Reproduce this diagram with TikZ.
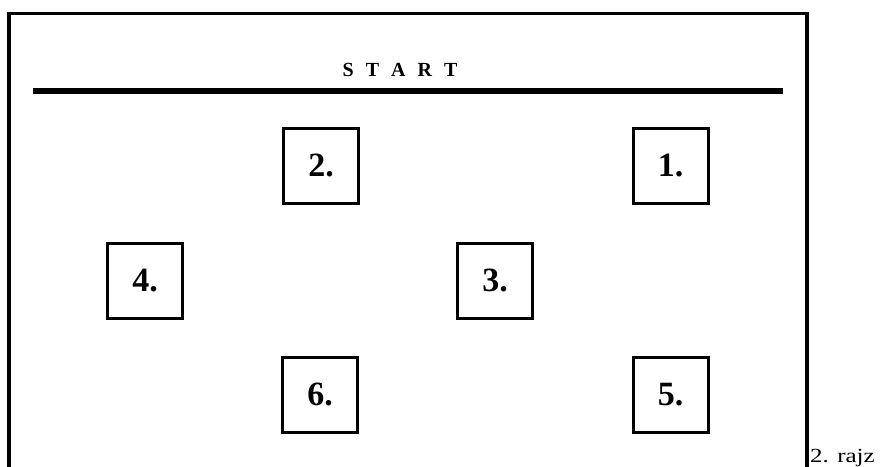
\documentclass[tikz,border=0pt]{standalone}
\usepackage{graphicx}
\usepackage{fontspec}
\setmainfont{Liberation Serif}
\begin{document}
\begin{tikzpicture}[x=1pt,y=-1pt,
  numbox/.style={draw,line width=3pt,minimum size=75pt,inner sep=0pt,
    font=\fontsize{34}{38}\selectfont\bfseries},
  frameline/.style={line width=3.5pt},
  startline/.style={line width=5.5pt}]
\useasboundingbox (0,0) rectangle (882,466);
\coordinate (fbl) at (9,468);
\coordinate (ftl) at (9,13.5);
\coordinate (ftr) at (807,13.5);
\coordinate (fbr) at (807,468);
\draw[frameline,line join=miter] (fbl) -- (ftl) -- (ftr) -- (fbr);
\coordinate (sl) at (33,91);
\coordinate (sr) at (783,91);
\draw[startline] (sl) -- (sr);
\node[font=\fontsize{20}{22}\selectfont\bfseries,anchor=base] (start) at (400,76)
  {S\kern12pt T\kern12pt A\kern12pt R\kern12pt T};
\node[numbox] (b2) at (321,165.5) {2.};
\node[numbox] (b1) at (670.5,166) {1.};
\node[numbox] (b4) at (145,280.5) {4.};
\node[numbox] (b3) at (495,280.5) {3.};
\node[numbox] (b6) at (320,394.5) {6.};
\node[numbox] (b5) at (670.5,394.5) {5.};
\node[font=\fontsize{20}{22}\selectfont,anchor=base west,inner sep=0pt] (cap) at (810,462) {\scalebox{1.25}[1]{2. rajz}};
\end{tikzpicture}
\end{document}
